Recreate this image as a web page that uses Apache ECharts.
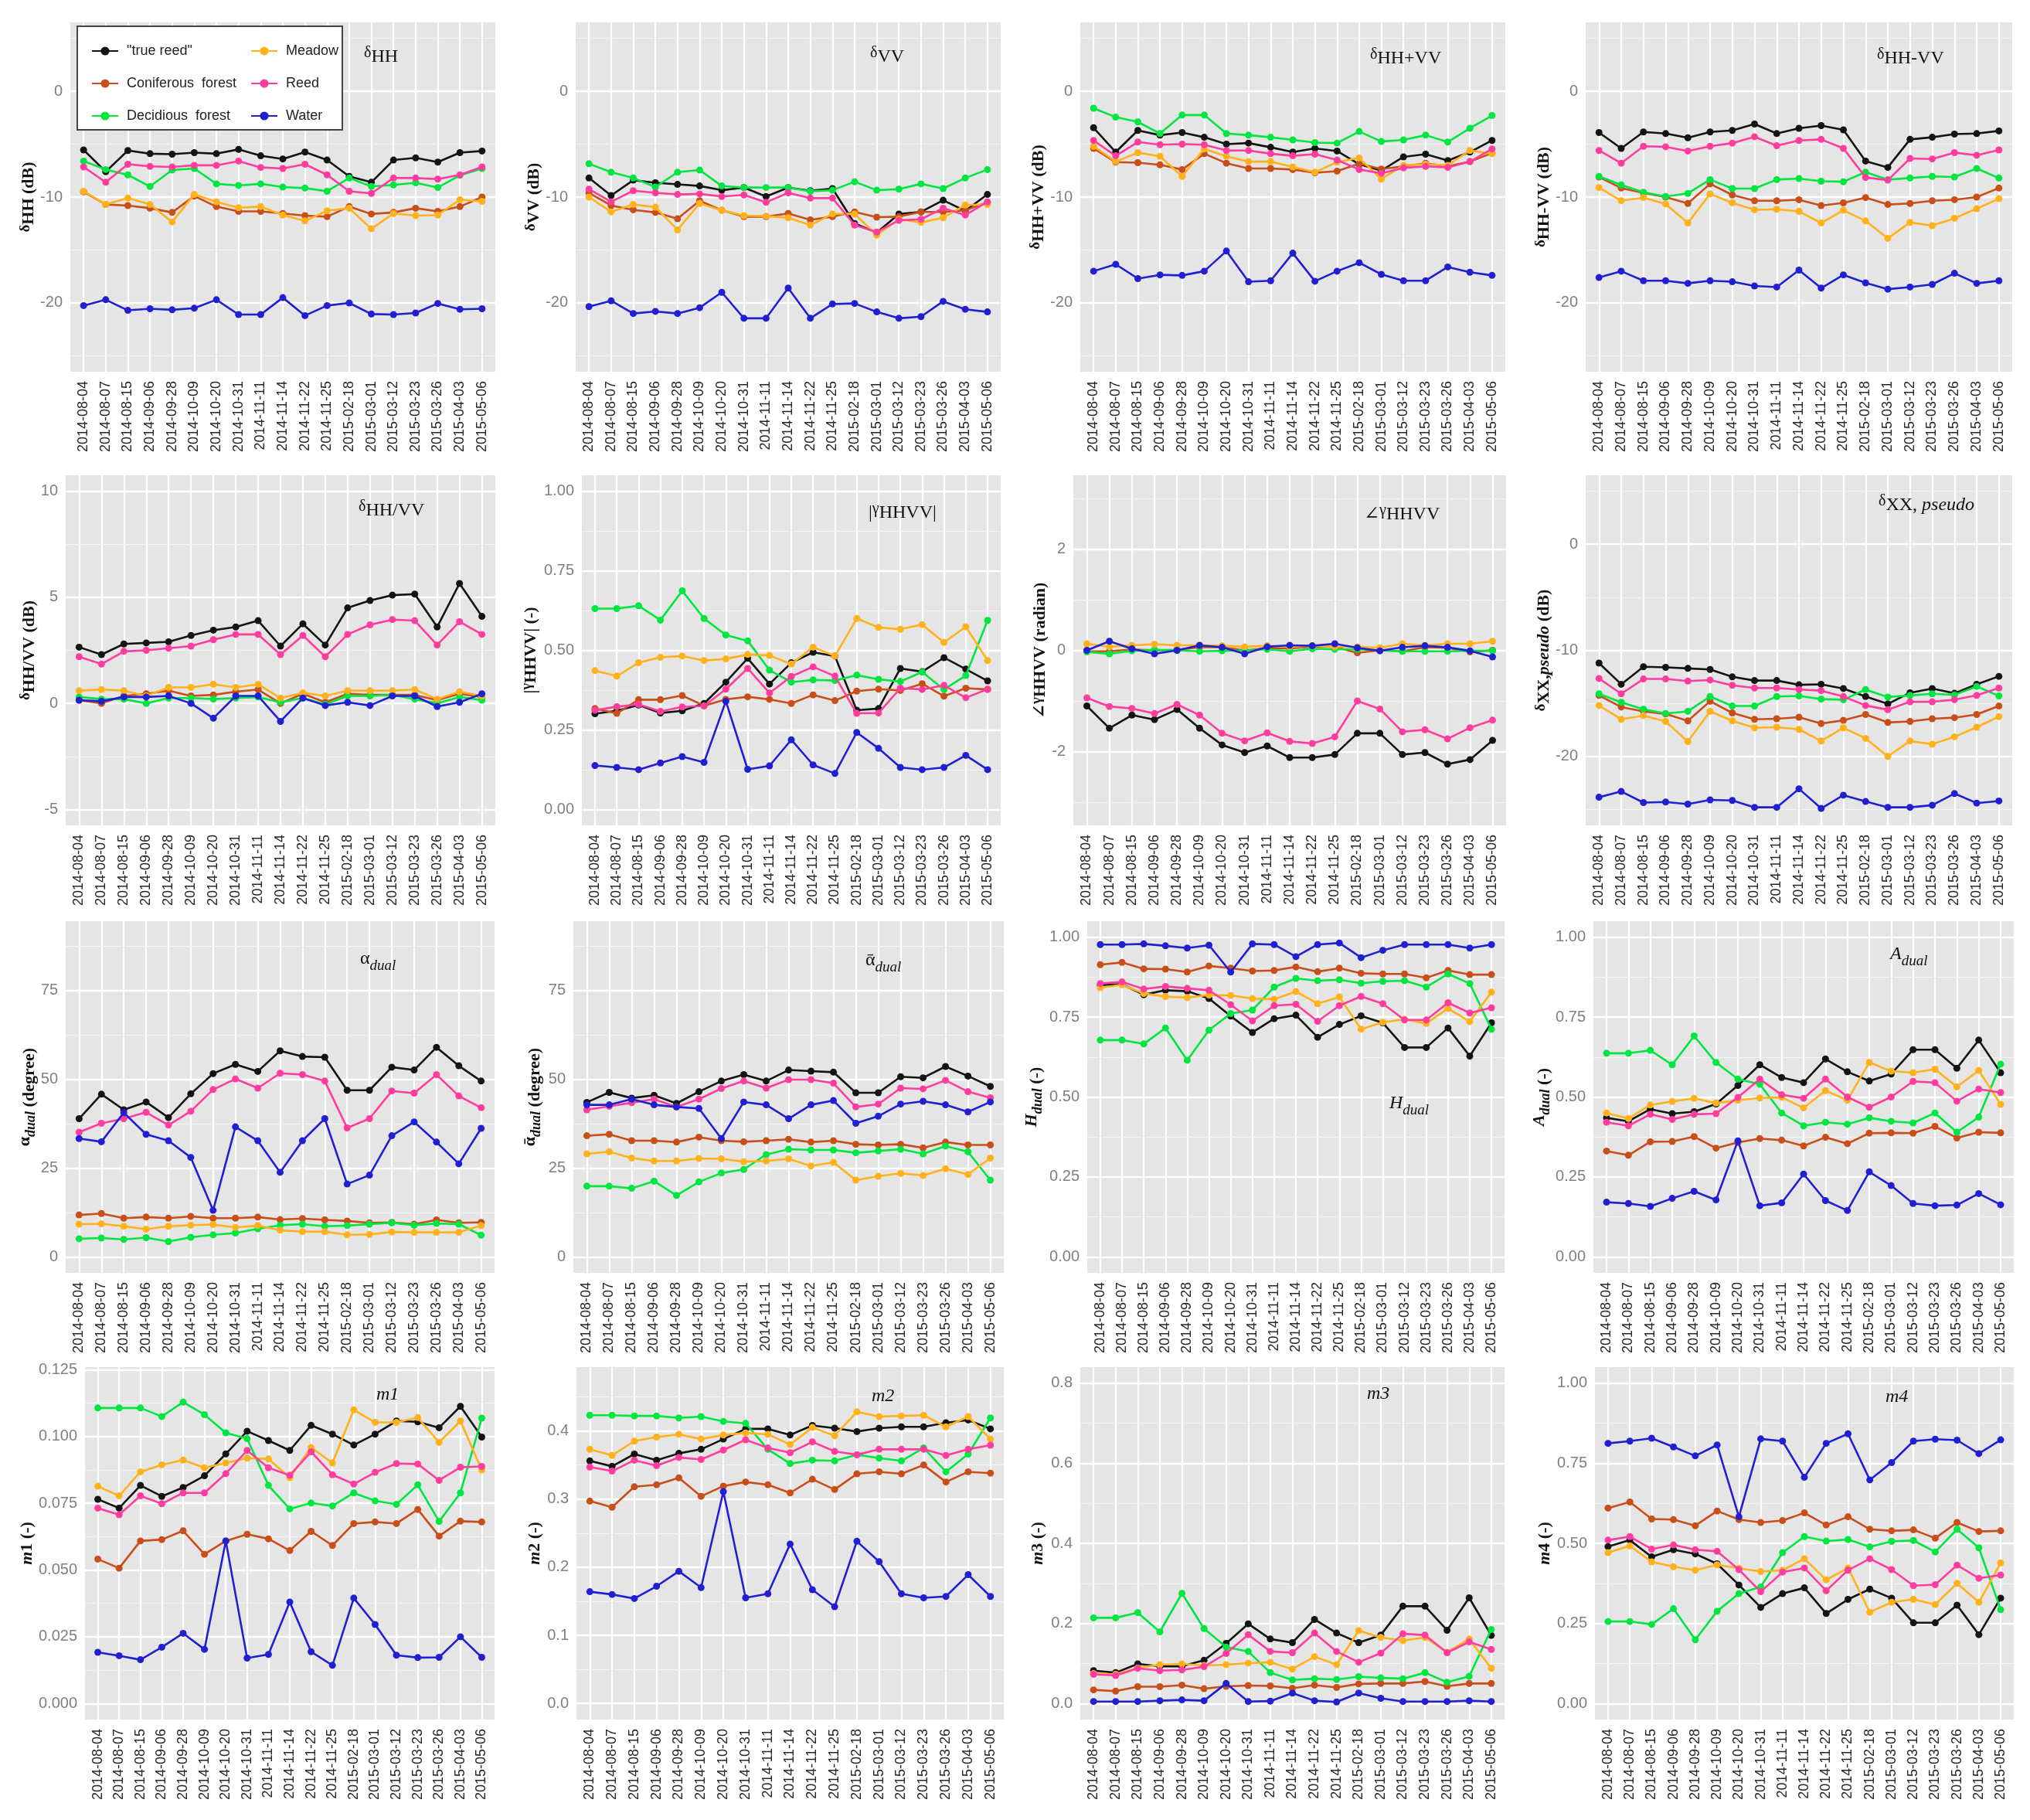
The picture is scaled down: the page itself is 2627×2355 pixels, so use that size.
<!DOCTYPE html>
<html><head><meta charset="utf-8">
<script src="https://cdn.jsdelivr.net/npm/echarts@6/dist/echarts.min.js"></script>
<style>html,body{margin:0;padding:0;background:#fff}#c{width:2627px;height:2355px}</style>
</head><body><div id="c"></div>
<script>
// ---------------- DATA ----------------
const dates = ['2014-08-04','2014-08-07','2014-08-15','2014-09-06','2014-09-28','2014-10-09','2014-10-20','2014-10-31','2014-11-11','2014-11-14','2014-11-22','2014-11-25','2015-02-18','2015-03-01','2015-03-12','2015-03-23','2015-03-26','2015-04-03','2015-05-06'];
const classNames = ['"true reed"','Coniferous  forest','Decidious  forest','Meadow','Reed','Water'];
// each panel: [true reed, coniferous, deciduous, meadow, reed, water]
const dHH = [
 [-5.55,-7.6,-5.6,-5.9,-5.95,-5.8,-5.9,-5.5,-6.1,-6.4,-5.75,-6.5,-8.05,-8.6,-6.5,-6.3,-6.7,-5.8,-5.65],
 [-9.5,-10.7,-10.8,-11.05,-11.45,-9.9,-10.9,-11.35,-11.35,-11.55,-11.75,-11.85,-10.9,-11.6,-11.45,-11.05,-11.35,-10.9,-10.0],
 [-6.6,-7.4,-7.9,-9.0,-7.45,-7.3,-8.75,-8.9,-8.75,-9.05,-9.15,-9.45,-8.2,-9.0,-8.85,-8.65,-9.1,-7.95,-7.3],
 [-9.45,-10.7,-10.1,-10.7,-12.35,-9.75,-10.45,-11.0,-10.9,-11.7,-12.25,-11.3,-11.05,-13.0,-11.55,-11.75,-11.7,-10.25,-10.4],
 [-7.15,-8.6,-6.9,-7.1,-7.15,-7.0,-7.0,-6.6,-7.2,-7.3,-6.9,-7.9,-9.45,-9.65,-8.2,-8.2,-8.3,-7.9,-7.15],
 [-20.25,-19.7,-20.7,-20.55,-20.65,-20.5,-19.7,-21.1,-21.1,-19.5,-21.2,-20.25,-20.0,-21.05,-21.1,-20.95,-20.05,-20.6,-20.55]];
const dVV = [
 [-8.2,-9.85,-8.4,-8.65,-8.8,-8.95,-9.35,-9.1,-9.95,-9.1,-9.4,-9.2,-12.5,-13.35,-11.6,-11.4,-10.3,-11.3,-9.75],
 [-9.6,-10.8,-11.2,-11.45,-12.05,-10.35,-11.25,-11.85,-11.85,-11.55,-12.15,-11.85,-11.4,-11.9,-11.85,-11.4,-11.4,-11.25,-10.5],
 [-6.85,-7.65,-8.2,-9.05,-7.65,-7.45,-8.95,-9.1,-9.1,-9.1,-9.45,-9.35,-8.55,-9.35,-9.25,-8.75,-9.2,-8.2,-7.4],
 [-10.0,-11.4,-10.7,-10.95,-13.1,-10.6,-11.25,-11.75,-11.8,-11.95,-12.65,-11.6,-11.6,-13.6,-12.1,-12.4,-11.95,-10.75,-10.7],
 [-9.25,-10.45,-9.4,-9.6,-9.75,-9.7,-9.95,-9.8,-10.5,-9.6,-10.1,-10.1,-12.65,-13.3,-12.2,-12.1,-11.05,-11.7,-10.45],
 [-20.35,-19.8,-21.0,-20.8,-21.0,-20.45,-19.0,-21.45,-21.45,-18.6,-21.45,-20.1,-20.05,-20.85,-21.45,-21.3,-19.85,-20.6,-20.85]];
const dHHpVV = [
 [-3.45,-5.75,-3.7,-4.15,-3.9,-4.35,-5.0,-4.9,-5.3,-5.75,-5.4,-5.65,-6.9,-7.5,-6.2,-5.95,-6.55,-5.75,-4.65],
 [-5.4,-6.7,-6.75,-6.95,-7.4,-5.9,-6.8,-7.3,-7.3,-7.4,-7.7,-7.55,-6.85,-7.35,-7.1,-6.8,-7.1,-6.65,-5.85],
 [-1.6,-2.45,-2.9,-4.0,-2.25,-2.25,-4.0,-4.15,-4.35,-4.6,-4.85,-4.9,-3.8,-4.75,-4.6,-4.15,-4.8,-3.5,-2.3],
 [-5.2,-6.65,-5.8,-6.15,-8.05,-5.45,-6.15,-6.65,-6.65,-7.15,-7.65,-6.7,-6.3,-8.3,-7.0,-6.9,-7.0,-5.6,-5.9],
 [-4.65,-6.1,-4.8,-5.05,-5.0,-5.05,-5.6,-5.6,-5.9,-6.1,-5.95,-6.5,-7.4,-7.75,-7.25,-7.1,-7.2,-6.65,-5.45],
 [-17.0,-16.35,-17.7,-17.35,-17.4,-17.0,-15.1,-18.0,-17.9,-15.3,-17.95,-17.0,-16.2,-17.3,-17.9,-17.9,-16.6,-17.1,-17.4]];
const dHHmVV = [
 [-3.9,-5.4,-3.85,-4.0,-4.4,-3.85,-3.7,-3.1,-4.0,-3.5,-3.25,-3.65,-6.6,-7.2,-4.55,-4.35,-4.05,-4.0,-3.75],
 [-8.1,-9.15,-9.6,-10.0,-10.6,-8.75,-9.8,-10.35,-10.35,-10.25,-10.8,-10.55,-10.05,-10.7,-10.6,-10.35,-10.25,-10.0,-9.15],
 [-8.05,-8.85,-9.55,-9.95,-9.65,-8.35,-9.2,-9.2,-8.35,-8.25,-8.5,-8.55,-7.65,-8.35,-8.2,-8.05,-8.1,-7.3,-8.2],
 [-9.1,-10.35,-10.05,-10.65,-12.45,-9.7,-10.55,-11.2,-11.15,-11.35,-12.45,-11.25,-12.25,-13.9,-12.4,-12.7,-12.0,-11.1,-10.15],
 [-5.6,-6.8,-5.2,-5.25,-5.65,-5.2,-4.9,-4.3,-5.15,-4.65,-4.55,-5.4,-8.15,-8.4,-6.35,-6.4,-5.8,-6.05,-5.55],
 [-17.6,-17.0,-17.9,-17.9,-18.15,-17.9,-18.0,-18.4,-18.5,-16.9,-18.6,-17.35,-18.1,-18.7,-18.5,-18.25,-17.2,-18.15,-17.9]];
const dHHdVV = [
 [2.65,2.3,2.8,2.85,2.9,3.2,3.45,3.6,3.9,2.7,3.75,2.75,4.5,4.85,5.1,5.15,3.6,5.65,4.1],
 [0.15,0.0,0.35,0.45,0.6,0.35,0.4,0.55,0.65,0.0,0.45,0.05,0.45,0.4,0.4,0.4,0.15,0.45,0.3],
 [0.3,0.2,0.2,0.0,0.25,0.25,0.2,0.25,0.3,0.05,0.25,-0.05,0.35,0.35,0.4,0.2,0.0,0.3,0.15],
 [0.6,0.65,0.6,0.35,0.75,0.75,0.9,0.75,0.9,0.25,0.5,0.35,0.6,0.6,0.6,0.65,0.2,0.55,0.35],
 [2.2,1.85,2.45,2.5,2.6,2.7,3.0,3.25,3.25,2.3,3.2,2.2,3.25,3.7,3.95,3.9,2.75,3.85,3.25],
 [0.15,0.1,0.3,0.3,0.35,0.0,-0.7,0.35,0.35,-0.85,0.25,-0.1,0.05,-0.1,0.35,0.35,-0.15,0.05,0.45]];
const gAbs = [
 [0.301,0.31,0.328,0.303,0.31,0.333,0.4,0.475,0.394,0.461,0.494,0.482,0.312,0.317,0.443,0.433,0.477,0.441,0.404],
 [0.317,0.302,0.345,0.345,0.358,0.326,0.346,0.354,0.346,0.333,0.36,0.342,0.372,0.378,0.374,0.395,0.356,0.381,0.377],
 [0.631,0.631,0.64,0.595,0.687,0.6,0.548,0.53,0.438,0.4,0.407,0.405,0.422,0.409,0.402,0.432,0.377,0.421,0.594],
 [0.436,0.419,0.461,0.478,0.482,0.468,0.473,0.487,0.484,0.457,0.51,0.482,0.6,0.572,0.566,0.581,0.525,0.574,0.468],
 [0.312,0.323,0.33,0.308,0.322,0.325,0.378,0.443,0.366,0.418,0.448,0.419,0.302,0.303,0.381,0.377,0.39,0.351,0.378],
 [0.138,0.132,0.125,0.146,0.166,0.148,0.34,0.126,0.137,0.219,0.14,0.113,0.242,0.192,0.132,0.125,0.132,0.17,0.125]];
const gAng = [
 [-1.1,-1.54,-1.28,-1.37,-1.17,-1.54,-1.87,-2.02,-1.89,-2.12,-2.12,-2.06,-1.64,-1.64,-2.06,-2.02,-2.25,-2.16,-1.78],
 [-0.02,-0.02,0.02,0.0,0.01,0.06,0.06,0.0,0.04,0.04,0.07,0.07,-0.05,0.0,-0.02,0.06,0.05,-0.03,0.0],
 [-0.03,-0.07,-0.01,0.01,0.0,-0.02,-0.01,0.0,0.02,-0.02,0.03,0.02,0.02,0.0,-0.02,-0.02,-0.02,-0.01,-0.01],
 [0.13,0.07,0.1,0.12,0.1,0.1,0.09,0.07,0.09,0.07,0.09,0.07,0.07,0.05,0.13,0.1,0.13,0.13,0.18],
 [-0.94,-1.11,-1.15,-1.25,-1.07,-1.28,-1.64,-1.79,-1.63,-1.8,-1.84,-1.71,-1.0,-1.16,-1.61,-1.57,-1.75,-1.53,-1.38],
 [0.0,0.18,0.03,-0.07,0.0,0.1,0.06,-0.07,0.07,0.1,0.09,0.13,0.05,-0.01,0.06,0.09,0.06,-0.01,-0.13]];
const dXX = [
 [-11.2,-13.2,-11.55,-11.6,-11.7,-11.8,-12.5,-12.85,-12.85,-13.25,-13.2,-13.6,-14.35,-15.05,-14.0,-13.6,-14.05,-13.2,-12.45],
 [-14.25,-15.35,-15.75,-16.0,-16.65,-14.8,-15.9,-16.5,-16.45,-16.3,-16.9,-16.6,-16.05,-16.8,-16.7,-16.45,-16.35,-16.05,-15.25],
 [-14.1,-14.9,-15.55,-15.95,-15.75,-14.35,-15.25,-15.25,-14.35,-14.3,-14.6,-14.65,-13.7,-14.4,-14.25,-14.1,-14.2,-13.4,-14.3],
 [-15.2,-16.5,-16.15,-16.7,-18.6,-15.75,-16.65,-17.3,-17.25,-17.45,-18.55,-17.3,-18.3,-20.0,-18.55,-18.85,-18.15,-17.25,-16.25],
 [-12.65,-14.1,-12.7,-12.7,-12.9,-12.8,-13.3,-13.55,-13.55,-13.7,-13.8,-14.35,-15.2,-15.6,-14.85,-14.85,-14.65,-14.25,-13.55],
 [-23.85,-23.3,-24.35,-24.3,-24.5,-24.1,-24.15,-24.8,-24.8,-23.05,-24.9,-23.65,-24.25,-24.8,-24.8,-24.6,-23.5,-24.4,-24.2]];
const alphaDual = [
 [38.9,45.8,41.4,43.6,39.2,45.9,51.6,54.2,52.2,58.0,56.4,56.2,46.9,46.9,53.4,52.6,59.0,53.8,49.5],
 [11.8,12.2,10.9,11.2,10.9,11.4,10.9,10.9,11.2,10.5,10.8,10.4,10.1,9.6,9.7,9.2,10.4,9.6,9.7],
 [5.1,5.3,4.9,5.4,4.3,5.5,6.2,6.7,7.9,8.9,9.2,8.6,8.8,9.2,9.6,8.9,9.4,9.2,6.1],
 [9.2,9.3,8.6,7.8,8.6,8.9,9.1,8.3,8.8,7.5,7.1,7.1,6.2,6.3,7.0,6.9,6.9,6.9,8.8],
 [35.1,37.6,38.9,40.7,37.1,41.0,47.1,50.1,47.5,51.7,51.3,49.5,36.3,38.9,46.7,46.1,51.3,45.3,42.0],
 [33.3,32.4,40.6,34.5,32.7,28.0,13.1,36.6,32.7,23.8,32.7,38.9,20.5,23.0,34.1,38.0,32.3,26.2,36.2]];
const alphaBarDual = [
 [43.5,46.3,44.7,45.5,43.2,46.5,49.5,51.3,49.5,52.6,52.3,52.0,46.2,46.2,50.7,50.4,53.6,50.9,48.0],
 [34.1,34.5,32.7,32.7,32.3,33.7,32.7,32.4,32.7,33.1,32.3,32.7,31.7,31.5,31.7,30.7,32.3,31.5,31.5],
 [19.9,19.9,19.3,21.3,17.3,21.1,23.6,24.6,28.8,30.3,30.1,30.1,29.3,29.8,30.3,29.0,31.2,29.6,21.6],
 [29.0,29.6,27.8,27.0,27.0,27.7,27.6,26.8,27.0,27.6,25.6,26.6,21.6,22.7,23.5,22.9,24.8,23.2,27.8],
 [41.4,42.4,43.4,44.4,42.2,44.4,47.4,49.5,47.5,49.9,49.9,48.9,42.2,43.0,47.5,47.3,49.7,46.5,44.8],
 [42.8,42.8,44.4,42.8,42.2,41.8,33.3,43.6,42.8,38.9,42.8,44.0,37.6,39.6,43.0,43.8,42.8,40.8,43.6]];
const hDual = [
 [0.85,0.853,0.82,0.834,0.831,0.808,0.753,0.702,0.745,0.756,0.687,0.727,0.754,0.732,0.655,0.655,0.716,0.628,0.732],
 [0.914,0.921,0.901,0.9,0.891,0.91,0.903,0.894,0.896,0.907,0.892,0.903,0.887,0.885,0.885,0.873,0.896,0.883,0.883],
 [0.678,0.678,0.666,0.716,0.615,0.709,0.761,0.772,0.844,0.871,0.864,0.867,0.856,0.862,0.864,0.844,0.885,0.855,0.712],
 [0.842,0.851,0.824,0.814,0.811,0.819,0.818,0.808,0.806,0.83,0.792,0.813,0.712,0.734,0.743,0.73,0.777,0.736,0.828],
 [0.855,0.86,0.838,0.846,0.84,0.834,0.789,0.738,0.786,0.79,0.737,0.786,0.815,0.792,0.741,0.741,0.795,0.763,0.779],
 [0.977,0.977,0.979,0.973,0.966,0.975,0.891,0.979,0.977,0.939,0.977,0.982,0.936,0.959,0.977,0.977,0.977,0.966,0.977]];
const aDual = [
 [0.435,0.424,0.462,0.448,0.454,0.478,0.536,0.601,0.561,0.545,0.619,0.579,0.55,0.572,0.648,0.648,0.59,0.678,0.576],
 [0.331,0.318,0.36,0.361,0.376,0.34,0.358,0.37,0.365,0.347,0.374,0.354,0.387,0.388,0.387,0.408,0.372,0.39,0.388],
 [0.637,0.637,0.646,0.601,0.691,0.608,0.556,0.54,0.45,0.41,0.421,0.415,0.435,0.424,0.419,0.45,0.39,0.437,0.603],
 [0.45,0.433,0.475,0.486,0.496,0.481,0.49,0.497,0.499,0.466,0.52,0.49,0.608,0.581,0.576,0.587,0.532,0.583,0.477],
 [0.421,0.41,0.446,0.43,0.446,0.448,0.499,0.556,0.507,0.496,0.556,0.5,0.468,0.5,0.549,0.545,0.487,0.525,0.514],
 [0.171,0.167,0.158,0.183,0.205,0.178,0.363,0.16,0.169,0.259,0.176,0.145,0.266,0.223,0.167,0.16,0.162,0.198,0.163]];
const m1 = [
 [0.0765,0.0732,0.0817,0.0776,0.0809,0.0853,0.0935,0.102,0.0985,0.0948,0.1042,0.1009,0.0968,0.1009,0.1058,0.1055,0.1033,0.1113,0.0998],
 [0.0541,0.0507,0.0609,0.0614,0.0647,0.0559,0.0609,0.0634,0.0617,0.0573,0.0645,0.0592,0.0674,0.068,0.0674,0.0727,0.0627,0.0683,0.068],
 [0.1107,0.1107,0.1107,0.1075,0.1129,0.1082,0.1014,0.0992,0.0817,0.0729,0.0751,0.074,0.0789,0.0759,0.0746,0.0819,0.0682,0.0789,0.1069],
 [0.0814,0.0778,0.0868,0.0894,0.0912,0.0883,0.0901,0.0919,0.0916,0.0846,0.0959,0.0901,0.110,0.1053,0.1053,0.1071,0.0978,0.1058,0.0875],
 [0.0732,0.0707,0.0778,0.0748,0.0789,0.0789,0.0861,0.0948,0.0883,0.0855,0.0943,0.0857,0.0822,0.0866,0.0899,0.0897,0.0836,0.0885,0.0888],
 [0.0192,0.0179,0.0164,0.0211,0.0263,0.0203,0.0609,0.017,0.0184,0.038,0.0194,0.0143,0.0395,0.0296,0.0181,0.0172,0.0173,0.025,0.0173]];
const m2 = [
 [0.356,0.348,0.366,0.357,0.367,0.373,0.388,0.403,0.403,0.394,0.408,0.404,0.399,0.404,0.406,0.406,0.412,0.416,0.403],
 [0.297,0.288,0.318,0.321,0.331,0.304,0.319,0.325,0.321,0.309,0.329,0.314,0.337,0.34,0.337,0.35,0.325,0.34,0.338],
 [0.423,0.423,0.422,0.422,0.419,0.421,0.414,0.411,0.373,0.352,0.357,0.356,0.365,0.36,0.356,0.375,0.34,0.366,0.419],
 [0.373,0.364,0.385,0.391,0.395,0.388,0.394,0.397,0.395,0.38,0.405,0.393,0.428,0.421,0.422,0.423,0.406,0.421,0.388],
 [0.347,0.341,0.357,0.349,0.361,0.358,0.372,0.387,0.375,0.368,0.384,0.37,0.365,0.373,0.373,0.373,0.364,0.373,0.379],
 [0.164,0.16,0.154,0.172,0.194,0.17,0.311,0.155,0.161,0.234,0.167,0.142,0.238,0.208,0.161,0.155,0.157,0.189,0.157]];
const m3 = [
 [0.082,0.077,0.099,0.093,0.093,0.108,0.15,0.199,0.161,0.152,0.21,0.176,0.152,0.171,0.243,0.243,0.183,0.264,0.17],
 [0.034,0.031,0.042,0.042,0.046,0.037,0.043,0.045,0.044,0.038,0.046,0.04,0.049,0.05,0.05,0.055,0.043,0.05,0.05],
 [0.214,0.214,0.227,0.179,0.275,0.187,0.141,0.13,0.077,0.059,0.062,0.06,0.067,0.064,0.062,0.077,0.053,0.068,0.185],
 [0.075,0.073,0.089,0.097,0.099,0.095,0.097,0.101,0.103,0.086,0.117,0.097,0.182,0.165,0.157,0.165,0.128,0.161,0.088],
 [0.073,0.07,0.088,0.082,0.084,0.092,0.125,0.172,0.13,0.127,0.176,0.13,0.103,0.126,0.174,0.171,0.127,0.154,0.135],
 [0.005,0.005,0.005,0.007,0.009,0.007,0.05,0.005,0.006,0.026,0.007,0.004,0.026,0.013,0.005,0.005,0.005,0.007,0.005]];
const m4 = [
 [0.49,0.51,0.458,0.48,0.467,0.436,0.37,0.3,0.343,0.361,0.281,0.325,0.357,0.329,0.252,0.252,0.307,0.215,0.329],
 [0.61,0.629,0.576,0.574,0.555,0.601,0.574,0.565,0.571,0.595,0.557,0.583,0.544,0.539,0.542,0.516,0.565,0.537,0.539],
 [0.256,0.256,0.247,0.296,0.199,0.288,0.343,0.364,0.471,0.521,0.507,0.512,0.489,0.506,0.509,0.473,0.544,0.486,0.293],
 [0.471,0.492,0.442,0.427,0.416,0.433,0.422,0.412,0.416,0.452,0.386,0.423,0.285,0.316,0.325,0.309,0.375,0.316,0.439],
 [0.51,0.521,0.482,0.495,0.48,0.475,0.418,0.349,0.41,0.423,0.352,0.416,0.452,0.418,0.368,0.371,0.432,0.391,0.401],
 [0.812,0.819,0.828,0.801,0.773,0.807,0.583,0.826,0.819,0.706,0.812,0.842,0.698,0.752,0.819,0.825,0.822,0.78,0.823]];

// axis breaks (tick labels)
const ticksDB = [-20,-10,0],     minorDB = [-25,-15,-5,5];
const ticksRatio = [-5,0,5,10],  minorRatio = [-2.5,2.5,7.5];
const ticksUnit = [0,0.25,0.5,0.75,1], minorUnit = [0.125,0.375,0.625,0.875];
const ticksAng = [-2,0,2],       minorAng = [-3,-1,1,3];
const ticksDeg = [0,25,50,75],   minorDeg = [12.5,37.5,62.5,87.5];
const ticksM1 = [0,0.025,0.05,0.075,0.1,0.125], minorM1 = [0.0125,0.0375,0.0625,0.0875,0.1125];
const ticksM2 = [0,0.1,0.2,0.3,0.4], minorM2 = [0.05,0.15,0.25,0.35,0.45];
const ticksM3 = [0,0.2,0.4,0.6,0.8], minorM3 = [0.1,0.3,0.5,0.7];

// ---------------- STYLE / LAYOUT ----------------
const colors = ['#141414','#C84E1A','#00E640','#FFB21C','#FF3D9E','#2020D0'];
const serif = "'Liberation Serif','DejaVu Serif',serif";
const sans = "'Liberation Sans','DejaVu Sans',Arial,sans-serif";

function richSet(size, bold, color) {
  const fw = bold ? 'bold' : 'normal';
  const base = {fontFamily: serif, fontWeight: fw, color: color, verticalAlign: 'bottom'};
  return {
    g: Object.assign({}, base, {fontSize: Math.round(size*0.85), padding: [0,0,Math.round(size*0.28),0]}),
    s: Object.assign({}, base, {fontSize: size}),
    i: Object.assign({}, base, {fontSize: size, fontStyle: 'italic'}),
    b: Object.assign({}, base, {fontSize: size, padding: [0,0,Math.round(size*0.25),0]}),
    bi: Object.assign({}, base, {fontSize: size, fontStyle: 'italic', padding: [0,0,Math.round(size*0.25),0]}),
    si: Object.assign({}, base, {fontSize: Math.round(size*0.8), fontStyle: 'italic'})
  };
}

const panels = [
 {d: dHH,   yr:[-26.5,6.5], t: ticksDB, mn: minorDB, dec:0, rect:[91,29,641,481],   title:'{g|δ}{s|HH}', tp:[466,54], yn:'{g|δ}{s|HH (dB)}', nd:55},
 {d: dVV,   yr:[-26.5,6.5], t: ticksDB, mn: minorDB, dec:0, rect:[745,29,1295,481], title:'{g|δ}{s|VV}', tp:[1121,54], yn:'{g|δ}{s|VV (dB)}', nd:51},
 {d: dHHpVV,yr:[-26.5,6.5], t: ticksDB, mn: minorDB, dec:0, rect:[1398,29,1948,481],title:'{g|δ}{s|HH+VV}', tp:[1768,56], yn:'{g|δ}{s|HH+VV (dB)}', nd:51},
 {d: dHHmVV,yr:[-26.5,6.5], t: ticksDB, mn: minorDB, dec:0, rect:[2052,29,2604,481],title:'{g|δ}{s|HH-VV}', tp:[2424,56], yn:'{g|δ}{s|HH-VV (dB)}', nd:53},
 {d: dHHdVV,yr:[-5.75,10.75], t: ticksRatio, mn: minorRatio, dec:0, rect:[85,615,641,1068], title:'{g|δ}{s|HH/VV}', tp:[459,641], yn:'{g|δ}{s|HH/VV (dB)}', nd:47},
 {d: gAbs,  yr:[-0.05,1.05], t: ticksUnit, mn: minorUnit, dec:2, rect:[753,615,1295,1068], title:'{s||}{g|γ}{s|HHVV|}', tp:[1119,644], yn:'{s||}{g|γ}{s|HHVV| (-)}', nd:68},
 {d: gAng,  yr:[-3.46,3.46], t: ticksAng, mn: minorAng, dec:0, rect:[1389,615,1949,1068], title:'{s|∠}{g|γ}{s|HHVV}', tp:[1760,646], yn:'{s|∠}{g|γ}{s|HHVV (radian)}', nd:42},
 {d: dXX,   yr:[-26.5,6.5], t: ticksDB, mn: minorDB, dec:0, rect:[2052,615,2604,1068], title:'{g|δ}{s|XX, }{i|pseudo}', tp:[2426,634], yn:'{g|δ}{s|XX,}{i|pseudo}{s| (dB)}', nd:55},
 {d: alphaDual,    yr:[-4.5,94.5], t: ticksDeg, mn: minorDeg, dec:0, rect:[85,1192,640,1647],  title:'{b|α}{si|dual}', tp:[461,1224], yn:'{b|α}{si|dual}{s| (degree)}', nd:47},
 {d: alphaBarDual, yr:[-4.5,94.5], t: ticksDeg, mn: minorDeg, dec:0, rect:[742,1192,1299,1647], title:'{b|ᾱ}{si|dual}', tp:[1115,1226], yn:'{b|ᾱ}{si|dual}{s| (degree)}', nd:52},
 {d: hDual, yr:[-0.05,1.05], t: ticksUnit, mn: minorUnit, dec:2, rect:[1407,1192,1947,1647], title:'{bi|H}{si|dual}', tp:[1793,1411], yn:'{bi|H}{si|dual}{s| (-)}', nd:68},
 {d: aDual, yr:[-0.05,1.05], t: ticksUnit, mn: minorUnit, dec:2, rect:[2062,1192,2606,1647], title:'{bi|A}{si|dual}', tp:[2441,1218], yn:'{bi|A}{si|dual}{s| (-)}', nd:61},
 {d: m1, yr:[-0.006,0.126], t: ticksM1, mn: minorM1, dec:3, rect:[110,1769,640,2225],  title:'{i|m1}', tp:[482,1788], yn:'{i|m}{s|1 (-)}', nd:72},
 {d: m2, yr:[-0.0236,0.4936], t: ticksM2, mn: minorM2, dec:1, rect:[746,1769,1299,2225], title:'{i|m2}', tp:[1123,1790], yn:'{i|m}{s|2 (-)}', nd:56},
 {d: m3, yr:[-0.04,0.84], t: ticksM3, mn: minorM3, dec:1, rect:[1398,1769,1947,2225], title:'{i|m3}', tp:[1764,1787], yn:'{i|m}{s|3 (-)}', nd:57},
 {d: m4, yr:[-0.05,1.05], t: ticksUnit, mn: minorUnit, dec:2, rect:[2064,1769,2606,2225], title:'{i|m4}', tp:[2435,1791], yn:'{i|m}{s|4 (-)}', nd:67}
];

const idx = dates.map((d, i) => i);
const grids = [], xAxes = [], yAxes = [], series = [], titles = [];
const titleRich = richSet(24, false, '#111');
const nameRich = richSet(22, true, '#111');

panels.forEach((p, k) => {
  const [L, T, R, B] = p.rect;
  grids.push({left: L, top: T, width: R - L, height: B - T, show: true, backgroundColor: '#E5E5E5', borderWidth: 0, containLabel: false, z: 0});
  xAxes.push({
    type: 'value', gridIndex: k, min: -0.6, max: 18.6,
    axisLine: {show: false}, splitLine: {show: false},
    axisTick: {show: true, customValues: idx, length: 5, lineStyle: {color: '#555', width: 1.5}},
    axisLabel: {customValues: idx, rotate: 90, margin: 12, fontSize: 18, fontFamily: sans, color: '#262626',
                formatter: v => dates[Math.round(v)]}
  });
  yAxes.push({
    type: 'value', gridIndex: k, min: p.yr[0], max: p.yr[1],
    axisLine: {show: false}, splitLine: {show: false},
    axisTick: {show: true, customValues: p.t, length: 5, lineStyle: {color: '#666', width: 1.5}},
    axisLabel: {customValues: p.t, margin: 10, fontSize: 20, fontFamily: sans, color: '#808080',
                formatter: v => Number(v).toFixed(p.dec)},
    name: p.yn, nameLocation: 'middle', nameRotate: 90, nameGap: p.nd - 13,
    nameTextStyle: {rich: nameRich}
  });
  // background grid lines (drawn beneath the data series)
  const ml = [];
  idx.forEach(i => ml.push({xAxis: i, lineStyle: {color: '#FFFFFF', width: 2.2, type: 'solid'}}));
  p.mn.forEach(v => ml.push({yAxis: v, lineStyle: {color: '#F3F3F3', width: 1.2, type: 'solid'}}));
  p.t.forEach(v => ml.push({yAxis: v, lineStyle: {color: '#FFFFFF', width: 2.4, type: 'solid'}}));
  series.push({
    type: 'line', xAxisIndex: k, yAxisIndex: k, data: [], z: 1, silent: true,
    markLine: {z: 1, zlevel: 0, silent: true, symbol: ['none','none'], label: {show: false}, animation: false, precision: 6, data: ml}
  });
  p.d.forEach((vals, s) => {
    series.push({
      name: classNames[s], type: 'line', xAxisIndex: k, yAxisIndex: k, z: 3 + s,
      data: vals.map((v, i) => [idx[i], v]),
      symbol: 'circle', symbolSize: 9, showSymbol: true, clip: false,
      lineStyle: {color: colors[s], width: 2.6},
      itemStyle: {color: colors[s]},
      emphasis: {disabled: true}
    });
  });
  titles.push({text: p.title, left: p.tp[0], top: p.tp[1], textStyle: {rich: titleRich}});
});

const legendCommon = {
  orient: 'vertical', top: 50, itemWidth: 34, itemHeight: 14, itemGap: 20, selectedMode: false,
  textStyle: {fontSize: 18, fontFamily: sans, color: '#222', lineHeight: 22, padding: [0,0,0,6]}, z: 20
};

const chart = echarts.init(document.getElementById('c'), null, {renderer: 'canvas'});
chart.setOption({
  animation: false,
  backgroundColor: '#FFFFFF',
  textStyle: {fontFamily: sans},
  title: titles,
  grid: grids, xAxis: xAxes, yAxis: yAxes, series: series,
  legend: [
    Object.assign({}, legendCommon, {left: 113, data: classNames.slice(0, 3)}),
    Object.assign({}, legendCommon, {left: 319, data: classNames.slice(3)})
  ],
  graphic: [{type: 'rect', z: 15, shape: {x: 100, y: 34, width: 343, height: 134},
             style: {fill: '#FFFFFF', stroke: '#444', lineWidth: 2}}]
});
</script></body></html>
